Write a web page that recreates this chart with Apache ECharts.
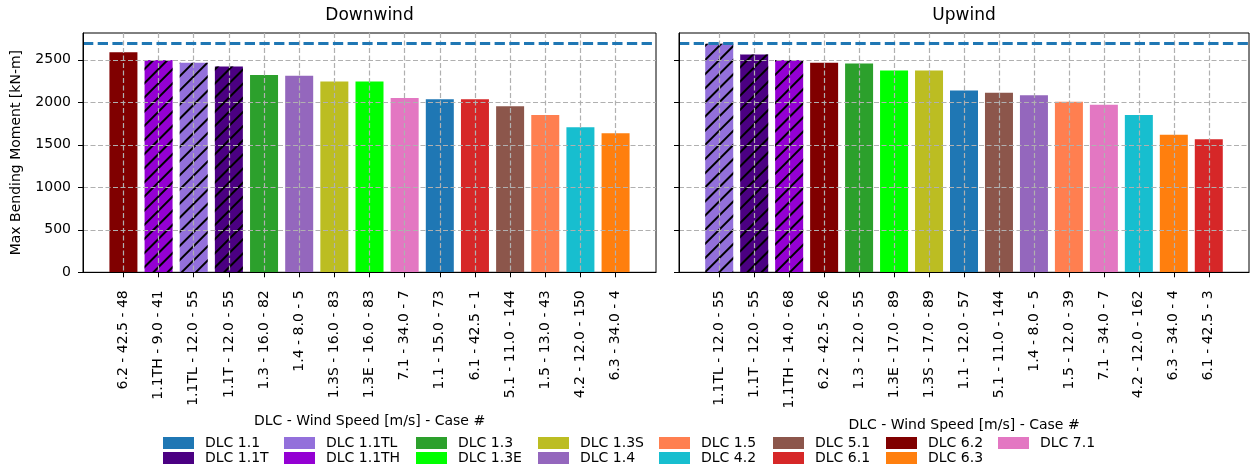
<!DOCTYPE html>
<html>
<head>
<meta charset="utf-8">
<script src="https://cdn.jsdelivr.net/npm/echarts@6/dist/echarts.min.js"></script>
<style>
html, body { margin: 0; padding: 0; background: #fff; }
#chart { width: 1250px; height: 468px; }
</style>
</head>
<body>
<div id="chart"></div>
<script>
const FONT = 'DejaVu Sans'

const dlcNames = ['DLC 1.1', 'DLC 1.1T', 'DLC 1.1TL', 'DLC 1.1TH', 'DLC 1.3', 'DLC 1.3E', 'DLC 1.3S', 'DLC 1.4',
    'DLC 1.5', 'DLC 4.2', 'DLC 5.1', 'DLC 6.1', 'DLC 6.2', 'DLC 6.3', 'DLC 7.1']
const dlcColors = ['#1f77b4', '#4b0082', '#9370db', '#9400d3', '#2ca02c', '#00ff00', '#bcbd22', '#9467bd',
    '#ff7f50', '#17becf', '#8c564b', '#d62728', '#800000', '#ff7f0e', '#e377c2']
const hatchedNames = ['DLC 1.1T', 'DLC 1.1TL', 'DLC 1.1TH']

const downLabels = ['6.2 - 42.5 - 48', '1.1TH - 9.0 - 41', '1.1TL - 12.0 - 55', '1.1T - 12.0 - 55', '1.3 - 16.0 - 82',
    '1.4 - 8.0 - 5', '1.3S - 16.0 - 83', '1.3E - 16.0 - 83', '7.1 - 34.0 - 7', '1.1 - 15.0 - 73', '6.1 - 42.5 - 1',
    '5.1 - 11.0 - 144', '1.5 - 13.0 - 43', '4.2 - 12.0 - 150', '6.3 - 34.0 - 4']
const downValues = [2590, 2496, 2465, 2422, 2320, 2312, 2245, 2245, 2049, 2037, 2037, 1954, 1849, 1707, 1637]

const upLabels = ['1.1TL - 12.0 - 55', '1.1T - 12.0 - 55', '1.1TH - 14.0 - 68', '6.2 - 42.5 - 26', '1.3 - 12.0 - 55',
    '1.3E - 17.0 - 89', '1.3S - 17.0 - 89', '1.1 - 12.0 - 57', '5.1 - 11.0 - 144', '1.4 - 8.0 - 5', '1.5 - 12.0 - 39',
    '7.1 - 34.0 - 7', '4.2 - 12.0 - 162', '6.3 - 34.0 - 4', '6.1 - 42.5 - 3']
const upValues = [2688, 2563, 2496, 2465, 2457, 2374, 2374, 2139, 2111, 2084, 2005, 1970, 1849, 1617, 1566]

const limitValue = 2690
const yTicks = [0, 500, 1000, 1500, 2000, 2500]
const panelTitles = ['Downwind', 'Upwind']
const xName = 'DLC - Wind Speed [m/s] - Case #'
const yName = 'Max Bending Moment [kN-m]'

// legend columns (matplotlib ncol layout, column-major)
const legendColumns = [
    ['DLC 1.1', 'DLC 1.1T'], ['DLC 1.1TL', 'DLC 1.1TH'], ['DLC 1.3', 'DLC 1.3E'], ['DLC 1.3S', 'DLC 1.4'],
    ['DLC 1.5', 'DLC 4.2'], ['DLC 5.1', 'DLC 6.1'], ['DLC 6.2', 'DLC 6.3'], ['DLC 7.1']
]
const legendLeft = [163, 284, 416, 538, 659, 773, 886, 998]

function dlcOf(label) {
    return 'DLC ' + label.split(' - ')[0]
}

const hatch = {
    symbol: 'rect',
    symbolSize: 1,
    color: '#000',
    dashArrayX: [1, 0],
    dashArrayY: [1.8, 7.4],
    rotation: -Math.PI / 4
}

const panels = [
    { labels: downLabels, values: downValues, left: 83, width: 573, nameGap: 142 },
    { labels: upLabels, values: upValues, left: 679, width: 570, nameGap: 146 }
]

const grids = []
const xAxes = []
const yAxes = []
const series = []
const idx = downLabels.map((_, i) => i)

panels.forEach((p, k) => {
    grids.push({
        left: p.left, width: p.width, top: 33, height: 239.3,
        show: true, borderColor: '#000', borderWidth: 1, backgroundColor: 'transparent'
    })
    xAxes.push({
        gridIndex: k, type: 'value', min: -1.15, max: 15.15, z: 5,
        name: xName, nameLocation: 'middle', nameGap: p.nameGap,
        nameTextStyle: { fontFamily: FONT, fontSize: 14, color: '#000' },
        axisLine: { show: true, onZero: false, lineStyle: { color: '#000', width: 1 } },
        axisTick: { show: true, length: 5, customValues: idx, lineStyle: { color: '#000', width: 1 } },
        axisLabel: {
            customValues: idx, rotate: 90, margin: 18,
            fontFamily: FONT, fontSize: 14, color: '#000',
            formatter: v => p.labels[Math.round(v)]
        },
        splitLine: { show: true, lineStyle: { color: '#b0b0b0', width: 1.2, type: [5, 2.5] } }
    })
    yAxes.push({
        gridIndex: k, type: 'value', min: 0, max: 2815, z: 5,
        name: k === 0 ? yName : '', nameLocation: 'middle', nameGap: 60,
        nameTextStyle: { fontFamily: FONT, fontSize: 14, color: '#000' },
        axisLine: { show: true, onZero: false, lineStyle: { color: '#000', width: 1 } },
        axisTick: { show: true, length: 5, customValues: yTicks, lineStyle: { color: '#000', width: 1 } },
        axisLabel: {
            show: k === 0, customValues: yTicks, margin: 12,
            fontFamily: FONT, fontSize: 14, color: '#000',
            formatter: v => String(v)
        },
        splitLine: { show: true, lineStyle: { color: '#b0b0b0', width: 1.2, type: [5, 2.5] } }
    })

    dlcNames.forEach((name, j) => {
        const data = []
        p.labels.forEach((lab, i) => {
            if (dlcOf(lab) === name) data.push([i, p.values[i]])
        })
        const s = {
            type: 'bar', name: name, xAxisIndex: k, yAxisIndex: k,
            barWidth: 28, barGap: '-100%',
            data: data,
            itemStyle: { color: dlcColors[j] },
            emphasis: { disabled: true }
        }
        if (hatchedNames.includes(name)) s.itemStyle.decal = hatch
        if (j === 0) {
            s.markLine = {
                silent: true, symbol: ['none', 'none'], label: { show: false },
                lineStyle: { color: '#1f77b4', width: 2.8, type: [10.3, 4.4] },
                data: [{ yAxis: limitValue }]
            }
        }
        series.push(s)
    })
})

const legends = legendColumns.map((names, c) => ({
    orient: 'vertical', left: legendLeft[c], top: 436, padding: 0,
    itemWidth: 31, itemHeight: 12, itemGap: 1, icon: 'rect', selectedMode: false,
    textStyle: { fontFamily: FONT, fontSize: 14, color: '#000', padding: [0, 0, 0, 6] },
    data: names.map(n => ({ name: n, itemStyle: { decal: 'none' } }))
}))

const chart = echarts.init(document.getElementById('chart'), null, { renderer: 'canvas' })
chart.setOption({
    animation: false,
    backgroundColor: '#fff',
    textStyle: { fontFamily: FONT },
    title: panelTitles.map((t, k) => ({
        text: t, left: panels[k].left + panels[k].width / 2, top: 7, textAlign: 'center', padding: 0,
        textStyle: { fontFamily: FONT, fontSize: 17, fontWeight: 'normal', color: '#000' }
    })),
    legend: legends,
    grid: grids,
    xAxis: xAxes,
    yAxis: yAxes,
    series: series
})
</script>
</body>
</html>
